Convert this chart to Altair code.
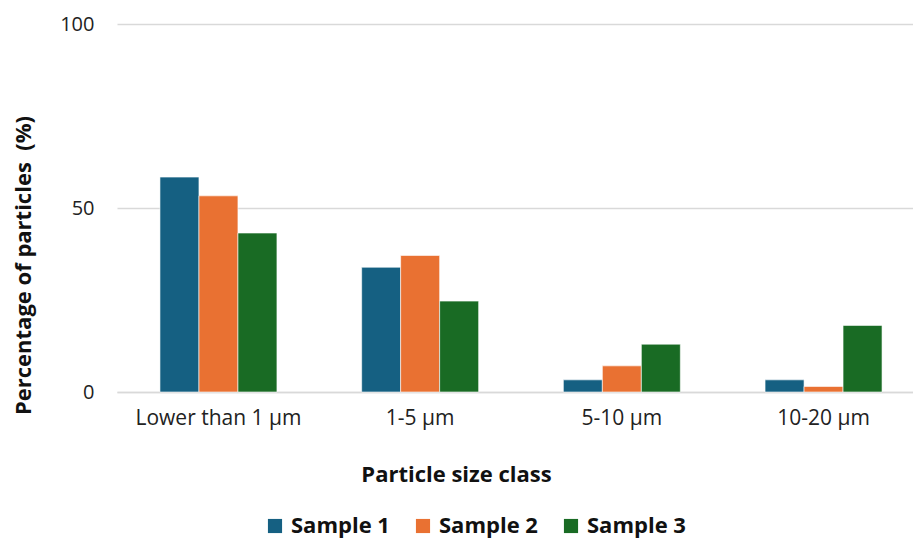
import altair as alt
import pandas as pd

categories = ["Lower than 1 µm", "1-5 µm", "5-10 µm", "10-20 µm"]
samples = ["Sample 1", "Sample 2", "Sample 3"]
sample1 = [58.4, 33.9, 3.3, 3.3]
sample2 = [53.3, 37.1, 7.1, 1.5]
sample3 = [43.2, 24.7, 13.0, 18.1]
colors = ["#156082", "#E97132", "#196B24"]

rows = []
for s, vals in zip(samples, [sample1, sample2, sample3]):
    for c, v in zip(categories, vals):
        rows.append({"cls": c, "sample": s, "value": v})
df = pd.DataFrame(rows)

FONT = "Open Sans"

chart = alt.Chart(df).mark_bar(stroke="white", strokeWidth=0.6).encode(
    x=alt.X("cls:N", sort=categories,
            scale=alt.Scale(paddingInner=0.42, paddingOuter=0.213, range=[0, 808]),
            axis=alt.Axis(title="Particle size class", labelAngle=0, ticks=False,
                          domain=True, domainColor="#D9D9D9", domainWidth=1.5,
                          labelFontSize=21, labelPadding=15, labelColor="#222",
                          labelFont=FONT, titleFont=FONT, titleFontSize=22,
                          titleFontWeight="bold", titleColor="#111",
                          titleX=339, titleY=89, titleBaseline="alphabetic",
                          titleAnchor="middle")),
    xOffset=alt.XOffset("sample:N", sort=samples, scale=alt.Scale(paddingInner=0, paddingOuter=0)),
    y=alt.Y("value:Q", scale=alt.Scale(domain=[0, 100]),
            axis=alt.Axis(title="Percentage of particles\u00a0 (%)", values=[0, 50, 100],
                          ticks=False, domain=False, gridColor="#D9D9D9", gridWidth=1.5,
                          labelFontSize=20, labelPadding=23, labelColor="#222",
                          labelFont=FONT, titleFont=FONT, titleFontSize=22,
                          titleFontWeight="bold", titleColor="#111",
                          titleX=-87, titleY=241, titleBaseline="alphabetic",
                          titleAnchor="middle")),
    color=alt.Color("sample:N", sort=samples,
                    scale=alt.Scale(domain=samples, range=colors),
                    legend=alt.Legend(title=None, orient="none", direction="horizontal",
                                      legendX=147, legendY=491,
                                      symbolType="square", symbolSize=200,
                                      symbolStrokeWidth=0, labelFontSize=22,
                                      labelFontWeight="bold", labelFont=FONT,
                                      labelColor="#111", columnPadding=22,
                                      symbolOffset=0, labelOffset=5)),
).properties(
    width=796, height=368,
    padding={"left": 117, "top": 24, "right": 0, "bottom": 148},
    autosize=alt.AutoSizeParams(type="none"),
).configure_view(stroke=None)

chart.save("out.html", embed_options={"renderer": "svg", "actions": False})
